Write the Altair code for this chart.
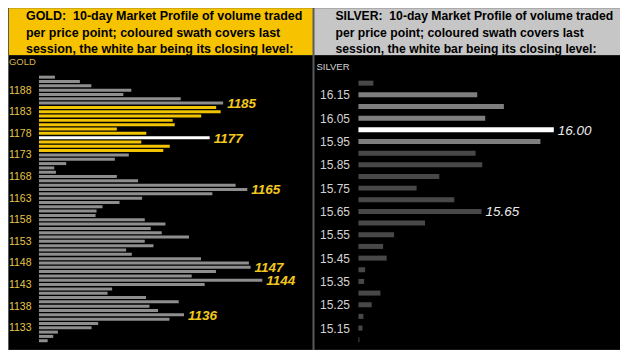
import altair as alt
import pandas as pd

# ---------------- data ----------------
gold_prices = list(range(1191, 1129, -1))
gold_volume = [16, 41, 52.5, 92.5, 84.5, 142, 184.5, 177.5, 182, 162.5, 134, 136,
               78, 107.5, 171, 102.5, 131, 124.5, 90, 76, 27.3, 15.3, 17, 78,
               99.3, 197, 208.7, 173.7, 103.3, 80.7, 63.7, 57.7, 56.7, 106,
               126.7, 112, 123, 150.3, 106, 114.7, 87.3, 93, 162.3, 210.3, 212,
               177.3, 153, 223.7, 166, 73.3, 68.7, 107.3, 140, 110.7, 119.3,
               145.3, 130.7, 59.3, 52.7, 19, 14.3, 8.7]
gold_swath = (1174, 1184)
gold_close = 1177
gold_labels = [1185, 1177, 1165, 1147, 1144, 1136]
gold_ticks = [1188, 1183, 1178, 1173, 1168, 1163, 1158, 1153, 1148, 1143, 1138, 1133]

silver_prices = [16.20, 16.15, 16.10, 16.05, 16.00, 15.95, 15.90, 15.85, 15.80,
                 15.75, 15.70, 15.65, 15.60, 15.55, 15.50, 15.45, 15.40, 15.35,
                 15.30, 15.25, 15.20, 15.15, 15.10]
silver_volume = [15, 119, 145.7, 127, 195.7, 182.3, 117.3, 124, 81, 58.3, 96,
                 123.3, 66.7, 35.7, 24.7, 28.3, 6.7, 5.7, 22, 13.3, 5, 4, 1]
silver_swath = (15.95, 16.15)
silver_close = 16.00
silver_labels = [16.00, 15.65]
silver_ticks = [16.15, 16.05, 15.95, 15.85, 15.75, 15.65, 15.55, 15.45, 15.35, 15.25, 15.15]

gold_header = ["GOLD:\u00a0 10-day Market Profile of volume traded",
               "per price point; coloured swath covers last",
               "session, the white bar being its closing level:"]
silver_header = ["SILVER:\u00a0 10-day Market Profile of volume traded",
                 "per price point; coloured swath covers last",
                 "session, the white bar being its closing level:"]


def kind(p, swath, close):
    if abs(p - close) < 1e-9:
        return "close"
    if swath[0] - 1e-9 <= p <= swath[1] + 1e-9:
        return "swath"
    return "other"


gold_df = pd.DataFrame({
    "price": gold_prices,
    "volume": gold_volume,
    "kind": [kind(p, gold_swath, gold_close) for p in gold_prices],
    "label": [str(p) if p in gold_labels else "" for p in gold_prices],
})
silver_df = pd.DataFrame({
    "price": silver_prices,
    "volume": silver_volume,
    "kind": [kind(p, silver_swath, silver_close) for p in silver_prices],
    "label": [f"{p:.2f}" if any(abs(p - q) < 1e-9 for q in silver_labels) else "" for p in silver_prices],
})

FONT = "Liberation Sans"
H = 342
HEAD = 47
one = pd.DataFrame({"_": [0]})


def panel(df, name, header, header_color, label_color, name_color, bar_colors,
          W, A, domain, yrange, bar_size, ticks, fmt, tick_size, tick_pad,
          text_x, head_size, ann_color, ann_weight, name_y, name_x):
    head_rect = alt.Chart(one).mark_rect(color=header_color).encode(
        x=alt.value(-A), x2=alt.value(W), y=alt.value(0), y2=alt.value(HEAD))
    body_rect = alt.Chart(one).mark_rect(color="black").encode(
        x=alt.value(-A), x2=alt.value(W), y=alt.value(HEAD), y2=alt.value(H))
    head_text = alt.Chart(one).mark_text(
        text=header, align="left", baseline="alphabetic", font=FONT,
        fontSize=head_size, fontWeight="bold", lineHeight=16.5, color="black"
    ).encode(x=alt.value(text_x), y=alt.value(12))
    name_text = alt.Chart(one).mark_text(
        text=name, align="left", baseline="middle", font=FONT, fontSize=9.5,
        color=name_color
    ).encode(x=alt.value(name_x), y=alt.value(name_y))

    yaxis = alt.Axis(values=ticks, format=fmt, title=None, domain=False,
                     ticks=False, grid=False, labelColor=label_color,
                     labelFont=FONT, labelFontSize=tick_size,
                     labelPadding=tick_pad, labelOverlap=False,
                     labelFlush=False, labelBound=False, zindex=1)
    yscale = alt.Scale(domain=domain, range=yrange, nice=False, zero=False)
    yenc = alt.Y("price:Q", scale=yscale, axis=yaxis)
    xenc = alt.X("volume:Q", scale=alt.Scale(domain=[0, W], nice=False), axis=None)

    bars = alt.Chart(df).mark_bar(orient="horizontal", size=bar_size).encode(
        y=yenc, x=xenc,
        color=alt.Color("kind:N",
                        scale=alt.Scale(domain=["other", "swath", "close"], range=bar_colors),
                        legend=None))
    ann = alt.Chart(df).transform_filter("datum.label != ''").mark_text(
        align="left", baseline="middle", dx=4, dy=1, font=FONT, fontSize=13.5,
        fontStyle="italic", fontWeight=ann_weight, color=ann_color
    ).encode(y=yenc, x=xenc, text="label:N")

    return alt.layer(head_rect, body_rect, head_text, name_text, bars, ann).properties(
        width=W, height=H)


gold = panel(gold_df, "GOLD", gold_header, "#f7c300", "#e6c64a", "#d9b94a",
             ["#8e8e8e", "#f2c400", "#ffffff"],
             W=274, A=30, domain=[1130, 1191], yrange=[338, 64], bar_size=3,
             ticks=gold_ticks, fmt="d", tick_size=10.5, tick_pad=8,
             text_x=-13, head_size=12.5, ann_color="#f2c81e", ann_weight="bold",
             name_y=54, name_x=-30)

silver = panel(silver_df, "SILVER", silver_header, "#c6c6c6", "#d4d4d4", "#d4d4d4",
               ["#484848", "#7e7e7e", "#ffffff"],
               W=262, A=44, domain=[15.10, 16.20], yrange=[337, 70], bar_size=5,
               ticks=silver_ticks, fmt=".2f", tick_size=12, tick_pad=9,
               text_x=-23, head_size=12.2, ann_color="#ececec", ann_weight="normal",
               name_y=59, name_x=-42)

chart = alt.hconcat(gold, silver, spacing=2).resolve_scale(
    color="independent", y="independent", x="independent"
).properties(
    padding=0, background="#5a5a5a"
).configure_view(stroke=None, strokeWidth=0).configure_axis(labelOverlap=False)

chart.save("out.html", embed_options={"renderer": "svg", "actions": False})
